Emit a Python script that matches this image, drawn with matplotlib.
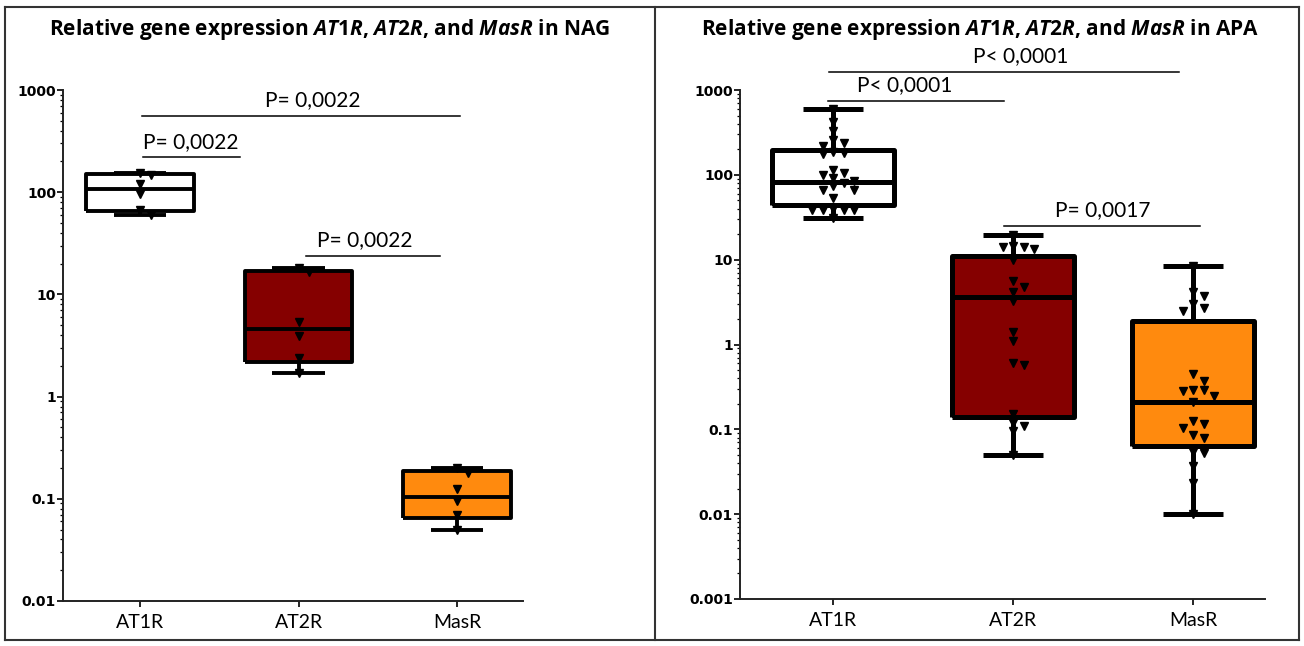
import numpy as np
import matplotlib.pyplot as plt
from matplotlib.lines import Line2D

plt.rcParams['mathtext.fontset'] = 'custom'
plt.rcParams['mathtext.rm'] = 'Open Sans:bold'
plt.rcParams['mathtext.it'] = 'Open Sans:bold:italic'
plt.rcParams['mathtext.bf'] = 'Open Sans:bold'

genes = ['AT1R', 'AT2R', 'MasR']
box_colors = ['white', '#850000', '#ff8a0e']
ytick_nag = [0.01, 0.1, 1, 10, 100, 1000]
ytick_apa = [0.001, 0.01, 0.1, 1, 10, 100, 1000]
ytick_labels_nag = ['0.01', '0.1', '1', '10', '100', '1000']
ytick_labels_apa = ['0.001', '0.01', '0.1', '1', '10', '100', '1000']

# NAG: relative expression per sample
nag_at1r = [60, 67, 95, 120, 148, 155]
nag_at2r = [1.7, 2.4, 3.9, 5.4, 16.7, 18]
nag_masr = [0.05, 0.07, 0.095, 0.125, 0.18, 0.2]
# box summaries: min, q1, median, q3, max
nag_box = [[60, 65, 107, 150, 155],
           [1.7, 2.2, 4.6, 17, 18],
           [0.05, 0.065, 0.105, 0.185, 0.2]]

# APA: relative expression per sample
apa_at1r = [600, 420, 330, 260, 238, 220, 185, 180, 175, 115, 105, 100,
            92, 85, 80, 74, 67, 66, 53, 40, 39, 39, 38, 38, 31]
apa_at2r = [19.5, 14.5, 14, 14, 13.5, 10, 5.6, 4.8, 4.2, 3.3, 1.4, 1.1,
            0.6, 0.57, 0.15, 0.12, 0.11, 0.095, 0.05]
apa_masr = [8.5, 4.2, 3.7, 3.0, 2.7, 2.5, 0.45, 0.37, 0.29, 0.29, 0.28, 0.25,
            0.21, 0.126, 0.115, 0.105, 0.085, 0.078, 0.054, 0.052, 0.037,
            0.023, 0.01]
apa_box = [[31, 44, 83, 195, 600],
           [0.05, 0.14, 3.6, 11, 19.5],
           [0.01, 0.063, 0.21, 1.9, 8.5]]

nag_pvals = ['P= 0,0022', 'P= 0,0022', 'P= 0,0022']
apa_pvals = ['P< 0,0001', 'P< 0,0001', 'P= 0,0017']

W, H = 1304, 646
fig = plt.figure(figsize=(W / 100, H / 100), dpi=100)


def px_axes(x0, y_top, x1, y_bot):
    return fig.add_axes([x0 / W, 1 - y_bot / H, (x1 - x0) / W, (y_bot - y_top) / H])


def swarm(ax, xc, values, d=8.0, step=10.5):
    placed = []
    out = []
    inv = ax.transData.inverted()
    for v in sorted(values, reverse=True):
        bx, by = ax.transData.transform((xc, v))
        k = 0
        while True:
            off = ((k + 1) // 2) * step * (1 if k % 2 else -1) if k else 0.0
            px = bx + off
            if all((px - qx) ** 2 + (by - qy) ** 2 >= d * d for qx, qy in placed):
                break
            k += 1
        placed.append((px, by))
        out.append(inv.transform((px, by)))
    return np.array(out)


def draw_panel(ax, groups, box, ylim, yticks, ylabels, xlim, lw, ms):
    ax.set_yscale('log')
    ax.set_ylim(*ylim)
    ax.set_xlim(*xlim)
    stats = [dict(whislo=b[0], q1=b[1], med=b[2], q3=b[3], whishi=b[4]) for b in box]
    fill = ax.bxp(stats, positions=range(3), widths=0.68, patch_artist=True,
                  showfliers=False, capwidths=0.33, manage_ticks=False)
    for patch, c in zip(fill['boxes'], box_colors):
        patch.set_facecolor(c)
        patch.set_edgecolor('none')
        patch.set_zorder(1)
    for key in ('whiskers', 'caps', 'medians'):
        for ln in fill[key]:
            ln.set_visible(False)
    for i, vals in enumerate(groups):
        pts = swarm(ax, i, vals)
        ax.plot(pts[:, 0], pts[:, 1], 'v', color='black', markersize=ms,
                linestyle='none', zorder=2, clip_on=False)
    line = dict(color='black', linewidth=lw, solid_capstyle='butt')
    ax.bxp(stats, positions=range(3), widths=0.68, showfliers=False,
           capwidths=0.33, manage_ticks=False,
           boxprops=dict(line, zorder=3), whiskerprops=dict(line, zorder=3),
           capprops=dict(line, zorder=3), medianprops=dict(line, zorder=3))

    for side in ('top', 'right'):
        ax.spines[side].set_visible(False)
    for side in ('left', 'bottom'):
        ax.spines[side].set_linewidth(1.4)
        ax.spines[side].set_color('#222222')
    ax.set_yticks(yticks, labels=ylabels)
    ax.set_xticks(range(3), labels=genes)
    ax.tick_params(axis='y', which='major', length=4, width=1.2, pad=1,
                   labelsize=10)
    ax.tick_params(axis='y', which='minor', length=2, width=0.9)
    ax.tick_params(axis='x', length=4, width=1.2, pad=5, labelsize=14)
    for t in ax.get_yticklabels():
        t.set_fontweight('bold')
    for t in ax.get_xticklabels():
        t.set_fontfamily('Lato')


def bracket(ax, x0, x1, y, label, tx, fs=15):
    ax.add_line(Line2D([x0, x1], [y, y], color='black', linewidth=1.1, clip_on=False))
    ax.annotate(label, (tx, y), xytext=(0, 4), textcoords='offset points',
                ha='center', va='bottom', fontsize=fs, family='Lato',
                annotation_clip=False)


# NAG panel
ax1 = px_axes(63, 90, 523, 601)
draw_panel(ax1, [nag_at1r, nag_at2r, nag_masr], nag_box, (0.01, 1000),
           ytick_nag, ytick_labels_nag, (-0.486, 2.416), lw=2.8, ms=5.5)
bracket(ax1, 0.01, 2.02, 556, nag_pvals[0], 1.09)
bracket(ax1, 0.02, 0.63, 219, nag_pvals[1], 0.32)
bracket(ax1, 1.05, 1.89, 24, nag_pvals[2], 1.42)

# APA panel
ax2 = px_axes(740, 90, 1265, 599)
draw_panel(ax2, [apa_at1r, apa_at2r, apa_masr], apa_box, (0.001, 1000),
           ytick_apa, ytick_labels_apa, (-0.517, 2.4), lw=3.6, ms=6)
bracket(ax2, -0.02, 1.92, 1630, apa_pvals[0], 1.04)
bracket(ax2, -0.03, 0.95, 740, apa_pvals[1], 0.40)
bracket(ax2, 0.95, 2.04, 25, apa_pvals[2], 1.50)

title = r'Relative gene expression $\mathit{AT1R}$, $\mathit{AT2R}$, and $\mathit{MasR}$ in '
fig.text(330 / W, 1 - 30 / H, title + 'NAG', ha='center', va='center',
         fontsize=15, family='Open Sans', weight='bold')
fig.text(980 / W, 1 - 30 / H, title + 'APA', ha='center', va='center',
         fontsize=15, family='Open Sans', weight='bold')

# panel frames
frame = dict(color='#333333', linewidth=1.5, transform=fig.transFigure)
for xs, ys in [([5, 1299], [7, 7]), ([5, 1299], [640, 640]),
               ([5, 5], [7, 640]), ([1299, 1299], [7, 640]),
               ([655, 655], [7, 640])]:
    fig.add_artist(Line2D([x / W for x in xs], [1 - y / H for y in ys], **frame))

fig.savefig('out.png', dpi=100)
